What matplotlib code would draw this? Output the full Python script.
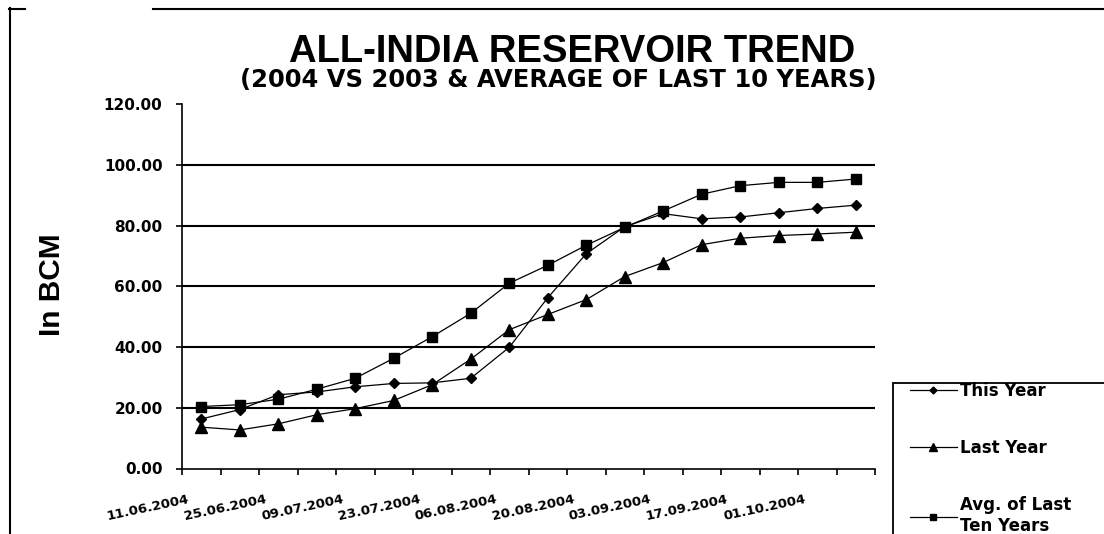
import matplotlib
matplotlib.use("Agg")
import matplotlib.pyplot as plt
from matplotlib.lines import Line2D
from matplotlib.patches import Rectangle
from matplotlib.transforms import ScaledTranslation

# ---- data ----
n_points = 18
this_year = [16.3, 19.4, 24.3, 25.2, 26.9, 28.0, 28.2, 29.7, 39.9, 56.2, 70.7, 79.6,
             83.9, 82.2, 82.8, 84.2, 85.6, 86.7]
last_year = [13.6, 12.7, 14.7, 17.7, 19.7, 22.4, 27.6, 36.0, 45.7, 50.7, 55.6, 63.2,
             67.8, 73.7, 75.8, 76.7, 77.2, 77.8]
avg_ten = [20.4, 21.0, 22.8, 26.1, 29.7, 36.3, 43.4, 51.1, 61.0, 66.9, 73.5, 79.4,
           84.8, 90.3, 93.1, 94.2, 94.2, 95.3]
date_labels = ["11.06.2004", "25.06.2004", "09.07.2004", "23.07.2004", "06.08.2004",
               "20.08.2004", "03.09.2004", "17.09.2004", "01.10.2004"]
series_names = ["This Year", "Last Year", "Avg. of Last\nTen Years"]
yticks = [0, 20, 40, 60, 80, 100, 120]

W, H = 1104, 534
fig = plt.figure(figsize=(W / 100, H / 100), dpi=100)
fig.patch.set_facecolor("white")

ax = fig.add_axes([182 / W, 1 - 468.5 / H, (875 - 182) / W, (468.5 - 104) / H])
x = list(range(n_points))

l1, = ax.plot(x, this_year, color="black", lw=0.9, marker="D", ms=5, mfc="black", mec="black")
l2, = ax.plot(x, last_year, color="black", lw=0.9, marker="^", ms=8, mfc="black", mec="black")
l3, = ax.plot(x, avg_ten, color="black", lw=0.9, marker="s", ms=7, mfc="black", mec="black")

ax.set_xlim(-0.5, n_points - 0.5)
ax.set_ylim(0, 120)

# gridlines (no line at 0 or 120)
for v in yticks[1:-1]:
    ax.axhline(v, color="black", lw=1.5, zorder=0)

ax.spines["top"].set_visible(False)
ax.spines["right"].set_visible(False)
ax.spines["left"].set_linewidth(1.2)
ax.spines["bottom"].set_linewidth(1.2)

ax.set_yticks(yticks)
ax.set_yticklabels([f"{v:.2f}" for v in yticks])
ax.tick_params(axis="y", direction="out", length=4, width=1.2, pad=10)
for lbl in ax.get_yticklabels():
    lbl.set_fontfamily("DejaVu Sans")
    lbl.set_fontweight("bold")
    lbl.set_fontsize(11)

# category boundary ticks
ax.set_xticks([i - 0.5 for i in range(n_points + 1)])
ax.set_xticklabels([])
ax.tick_params(axis="x", which="major", direction="out", length=4, width=1.2)
# labels on every other category
ax.set_xticks(list(range(0, n_points, 2)), minor=True)
ax.set_xticklabels(date_labels, minor=True)
ax.tick_params(axis="x", which="minor", length=0, pad=22)
off = ScaledTranslation(-12 / 100, 0, fig.dpi_scale_trans)
for lbl in ax.get_xticklabels(minor=True):
    lbl.set_fontfamily("DejaVu Sans")
    lbl.set_fontweight("bold")
    lbl.set_fontsize(9.5)
    lbl.set_rotation(12)
    lbl.set_rotation_mode("anchor")
    lbl.set_ha("right")
    lbl.set_va("center")
    lbl.set_transform(lbl.get_transform() + off)

# y label
fig.text(52 / W, 1 - 285 / H, "In BCM", rotation=90, ha="center", va="center",
         fontfamily="Liberation Sans", fontweight="bold", fontsize=21.5)

# titles
fig.text(572 / W, 1 - 62 / H, "ALL-INDIA RESERVOIR TREND", ha="center", va="baseline",
         fontfamily="Liberation Sans", fontweight="bold", fontsize=27.5)
fig.text(558 / W, 1 - 87 / H, "(2004 VS 2003 & AVERAGE OF LAST 10 YEARS)", ha="center",
         va="baseline", fontfamily="DejaVu Sans", fontweight="bold", fontsize=17.5)

# outer frame fragments
fig.add_artist(Line2D([10 / W, 10 / W], [1 - 8 / H, 0], color="black", lw=1.5))
fig.add_artist(Line2D([9 / W, 25 / W], [1 - 9 / H, 1 - 9 / H], color="black", lw=1.5))
fig.add_artist(Line2D([153 / W, 1], [1 - 9 / H, 1 - 9 / H], color="black", lw=1.5))

# legend frame and content
fig.add_artist(Rectangle((893 / W, -0.05), 0.3, 1 - 383 / H + 0.05, transform=fig.transFigure,
                         fill=False, edgecolor="black", lw=1.3))
leg = fig.legend([l1, l2, l3], series_names, loc="upper left",
                 bbox_to_anchor=(910 / W, 1 - 382 / H), frameon=False,
                 prop={"family": "DejaVu Sans", "weight": "bold", "size": 12},
                 handlelength=2.8, handletextpad=0.2, labelspacing=2.34,
                 borderpad=0, borderaxespad=0, markerscale=0.7)

fig.savefig("out.png", dpi=100)
